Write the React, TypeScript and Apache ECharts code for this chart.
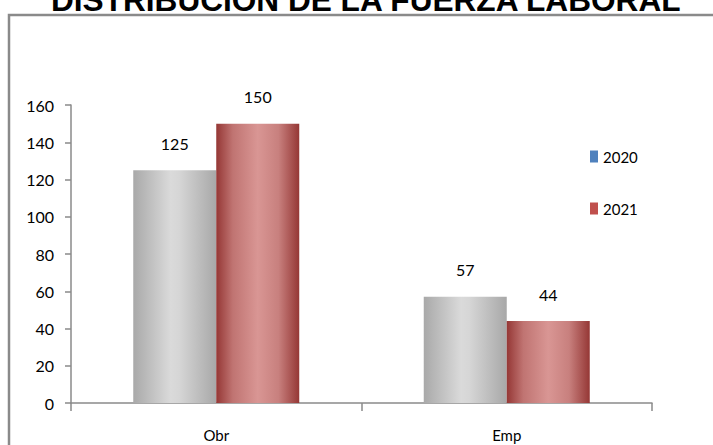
import React, { useEffect, useRef } from "react";
import * as echarts from "echarts";

const title = "DISTRIBUCIÓN DE LA FUERZA LABORAL";
const categories = ["Obr", "Emp"];
const seriesNames = ["2020", "2021"];
const values2020 = [125, 57];
const values2021 = [150, 44];
const yTicks = { min: 0, max: 160, interval: 20 };

const grayGrad = new echarts.graphic.LinearGradient(0, 0, 1, 0, [
  { offset: 0, color: "#a9a9a9" },
  { offset: 0.45, color: "#dadada" },
  { offset: 0.55, color: "#d6d6d6" },
  { offset: 1, color: "#a8a8a8" },
]);
const redGrad = new echarts.graphic.LinearGradient(0, 0, 1, 0, [
  { offset: 0, color: "#953735" },
  { offset: 0.2, color: "#c07472" },
  { offset: 0.5, color: "#d99694" },
  { offset: 0.75, color: "#c8807e" },
  { offset: 1, color: "#953735" },
]);

const font = "Lato, 'Open Sans', sans-serif";

export default function App() {
  const ref = useRef<HTMLDivElement>(null);
  useEffect(() => {
    if (!ref.current) return;
    const chart = echarts.init(ref.current, null, { renderer: "svg" });
    chart.setOption({
      animation: false,
      backgroundColor: "#ffffff",
      title: {
        text: title,
        left: 46,
        top: -21,
        textStyle: {
          fontSize: 31.6,
          fontWeight: "bold",
          fontFamily: "'Liberation Sans', Arial, sans-serif",
          color: "#000000",
        },
      },
      graphic: [
        {
          type: "rect",
          shape: { x: 9, y: 15, width: 720, height: 450 },
          style: { fill: "none", stroke: "#8a8a8a", lineWidth: 2.5 },
          silent: true,
        },
      ],
      legend: {
        orient: "vertical",
        left: 585,
        top: 144,
        itemWidth: 8,
        itemHeight: 12,
        itemGap: 37,
        textStyle: { fontSize: 15, fontFamily: font, color: "#000" },
        data: [
          { name: seriesNames[0], icon: "rect", itemStyle: { color: "#4f81bd" } },
          { name: seriesNames[1], icon: "rect", itemStyle: { color: "#c0504d" } },
        ],
      },
      grid: { left: 71, right: 61, top: 105, bottom: 42, containLabel: false },
      xAxis: {
        type: "category",
        data: categories,
        axisLine: { lineStyle: { color: "#8a8a8a", width: 1.5 } },
        axisTick: { show: true, length: 8, alignWithLabel: false, lineStyle: { color: "#8a8a8a", width: 1.5 } },
        axisLabel: { fontSize: 15, fontFamily: font, color: "#000", margin: 24 },
      },
      yAxis: {
        type: "value",
        min: yTicks.min,
        max: yTicks.max,
        interval: yTicks.interval,
        splitLine: { show: false },
        axisLine: { show: true, lineStyle: { color: "#8a8a8a", width: 1.5 } },
        axisTick: { show: true, length: 6, lineStyle: { color: "#8a8a8a", width: 1.5 } },
        axisLabel: { fontSize: 16, fontFamily: font, color: "#000", margin: 17 },
      },
      series: [
        {
          name: seriesNames[0],
          type: "bar",
          data: values2020,
          barWidth: 83,
          barGap: "0%",
          itemStyle: { color: grayGrad },
          label: { show: true, position: "top", distance: 19, fontSize: 16, fontFamily: font, color: "#000" },
        },
        {
          name: seriesNames[1],
          type: "bar",
          data: values2021,
          barWidth: 83,
          barGap: "0%",
          itemStyle: { color: redGrad },
          label: { show: true, position: "top", distance: 19, fontSize: 16, fontFamily: font, color: "#000" },
        },
      ],
    });
    return () => chart.dispose();
  }, []);
  return (
    <div
      ref={ref}
      style={{ position: "absolute", left: 0, top: 0, width: 713, height: 445 }}
    />
  );
}
